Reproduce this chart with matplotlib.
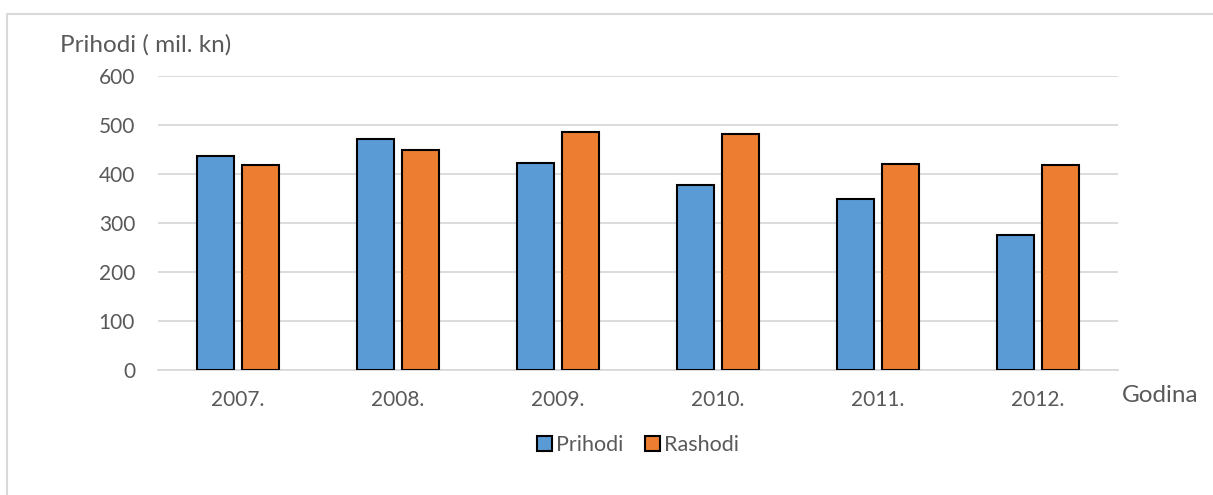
import numpy as np
import matplotlib.pyplot as plt
from matplotlib.lines import Line2D

godine = ['2007.', '2008.', '2009.', '2010.', '2011.', '2012.']
prihodi = [438, 473, 424, 379, 350, 276]
rashodi = [418, 450, 486, 482, 421, 418]

plt.rcParams['font.family'] = ['Lato', 'DejaVu Sans']
siva = '#595959'

fig = plt.figure(figsize=(12.13, 4.95), dpi=100)
ax = fig.add_axes([158 / 1213, 1 - 370.3 / 495, 960 / 1213, 294 / 495])

x = np.arange(len(godine))
w = 0.229
ax.bar(x - 0.142, prihodi, w, color='#5B9BD5', edgecolor='black', linewidth=1.5,
       label='Prihodi', zorder=3)
ax.bar(x + 0.142, rashodi, w, color='#ED7D31', edgecolor='black', linewidth=1.5,
       label='Rashodi', zorder=3)

ax.set_xlim(-0.5, len(godine) - 0.5)
ax.set_ylim(0, 600)
ax.set_yticks(range(0, 601, 100))
ax.set_xticks(x)
ax.set_xticklabels(godine)
ax.grid(axis='y', color='#D9D9D9', linewidth=1.3, zorder=0)
for s in ['top', 'right', 'left']:
    ax.spines[s].set_visible(False)
ax.spines['bottom'].set_color('#D9D9D9')
ax.spines['bottom'].set_linewidth(1.3)
ax.tick_params(length=0, labelsize=15, colors=siva)
ax.tick_params(axis='y', pad=16.5)
ax.tick_params(axis='x', pad=14)

fig.text(60 / 1213, 1 - 45 / 495, 'Prihodi ( mil. kn)', fontsize=17.5, color=siva,
         va='center', ha='left')
fig.text(1122 / 1213, 1 - 396 / 495, 'Godina', fontsize=17.5, color=siva,
         va='center', ha='left')

ax.legend(loc='center', bbox_to_anchor=(0.5, -0.255), ncol=2, frameon=False,
          fontsize=15.5, labelcolor=siva, handlelength=0.7, handleheight=0.7,
          handletextpad=0.2, columnspacing=1.0)

fig.add_artist(Line2D([7 / 1213, 7 / 1213, 1.0], [0.0, 1 - 13.5 / 495, 1 - 13.5 / 495],
                      transform=fig.transFigure, color='#D9D9D9', linewidth=1.5))

fig.savefig('out.png', dpi=100, facecolor='white')
